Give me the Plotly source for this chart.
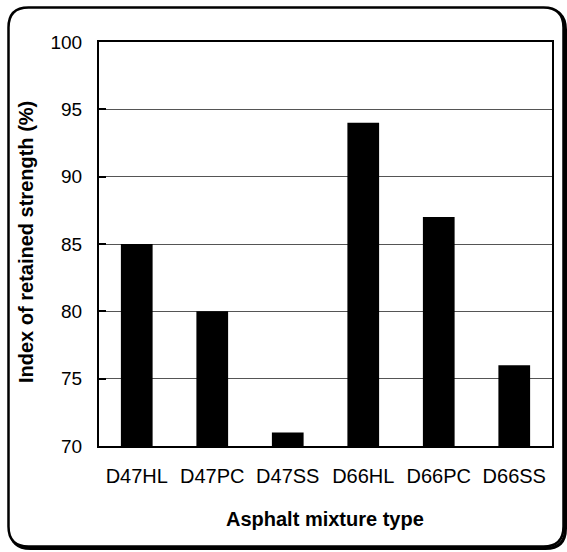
import plotly.graph_objects as go

categories = ["D47HL", "D47PC", "D47SS", "D66HL", "D66PC", "D66SS"]
retained_strength = [85, 80, 71, 94, 87, 76]
y_ticks = [70, 75, 80, 85, 90, 95, 100]

W, H = 567, 552
L, R, T, B = 99, 15, 42, 106
PW, PH = W - L - R, H - T - B


def px(x):
    return (x - L) / PW


def py(y):
    return (H - B - y) / PH


FONT = "Liberation Sans, Arial, sans-serif"

fig = go.Figure(
    go.Bar(
        x=categories,
        y=retained_strength,
        marker=dict(color="black", line=dict(width=0)),
        showlegend=False,
    )
)


def frame_path(x0, y0, x1, y1, r):
    pts = [
        ("M", (x0 + r, y0)),
        ("L", (x1 - r, y0)),
        ("Q", (x1, y0), (x1, y0 + r)),
        ("L", (x1, y1 - r)),
        ("Q", (x1, y1), (x1 - r, y1)),
        ("L", (x0 + r, y1)),
        ("Q", (x0, y1), (x0, y1 - r)),
        ("L", (x0, y0 + r)),
        ("Q", (x0, y0), (x0 + r, y0)),
    ]
    path = ""
    for p in pts:
        coords = " ".join(f"{px(a):.5f},{py(b):.5f}" for a, b in p[1:])
        path += f"{p[0]} {coords} "
    return path + "Z"


# shadow of the frame (bottom/right thicker)
fig.add_shape(type="path", path=frame_path(10.5, 9.5, 565.5, 548.5, 20), xref="paper", yref="paper",
              line=dict(color="black", width=3), fillcolor="rgba(0,0,0,0)", layer="below")
fig.add_shape(type="path", path=frame_path(8.5, 7.5, 563.5, 546.5, 20), xref="paper", yref="paper",
              line=dict(color="black", width=2.5), fillcolor="white", layer="below")

fig.add_annotation(text="<b>Index of retained strength (%)</b>", xref="paper", yref="paper",
                   x=px(26), y=py(242), textangle=-90, showarrow=False,
                   font=dict(family=FONT, size=20, color="black"),
                   xanchor="center", yanchor="middle")
fig.add_annotation(text="<b>Asphalt mixture type</b>", xref="paper", yref="paper",
                   x=px(325), y=py(519), showarrow=False,
                   font=dict(family=FONT, size=20, color="black"),
                   xanchor="center", yanchor="middle")

fig.update_layout(
    width=W, height=H,
    margin=dict(l=L, r=R, t=T, b=B, autoexpand=False),
    paper_bgcolor="white", plot_bgcolor="rgba(0,0,0,0)",
    bargap=0.58,
    font=dict(family=FONT, color="black"),
)
fig.update_xaxes(
    type="category", showgrid=False, ticks="", showline=True, linecolor="black",
    linewidth=2, mirror=True, tickfont=dict(size=20, family=FONT, color="black"),
    ticklabelstandoff=11, automargin=False,
)
fig.update_yaxes(
    range=[70, 100], tickvals=y_ticks, showgrid=True, gridcolor="#555555", gridwidth=1,
    ticks="inside", ticklen=7, tickwidth=2, tickcolor="black",
    showline=True, linecolor="black", linewidth=2, mirror=True,
    tickfont=dict(size=19, family=FONT, color="black"), zeroline=False,
    ticklabelstandoff=11, automargin=False,
)

fig.write_html("out.html", config={"displayModeBar": False},
               post_script="document.body.style.margin='0';")
